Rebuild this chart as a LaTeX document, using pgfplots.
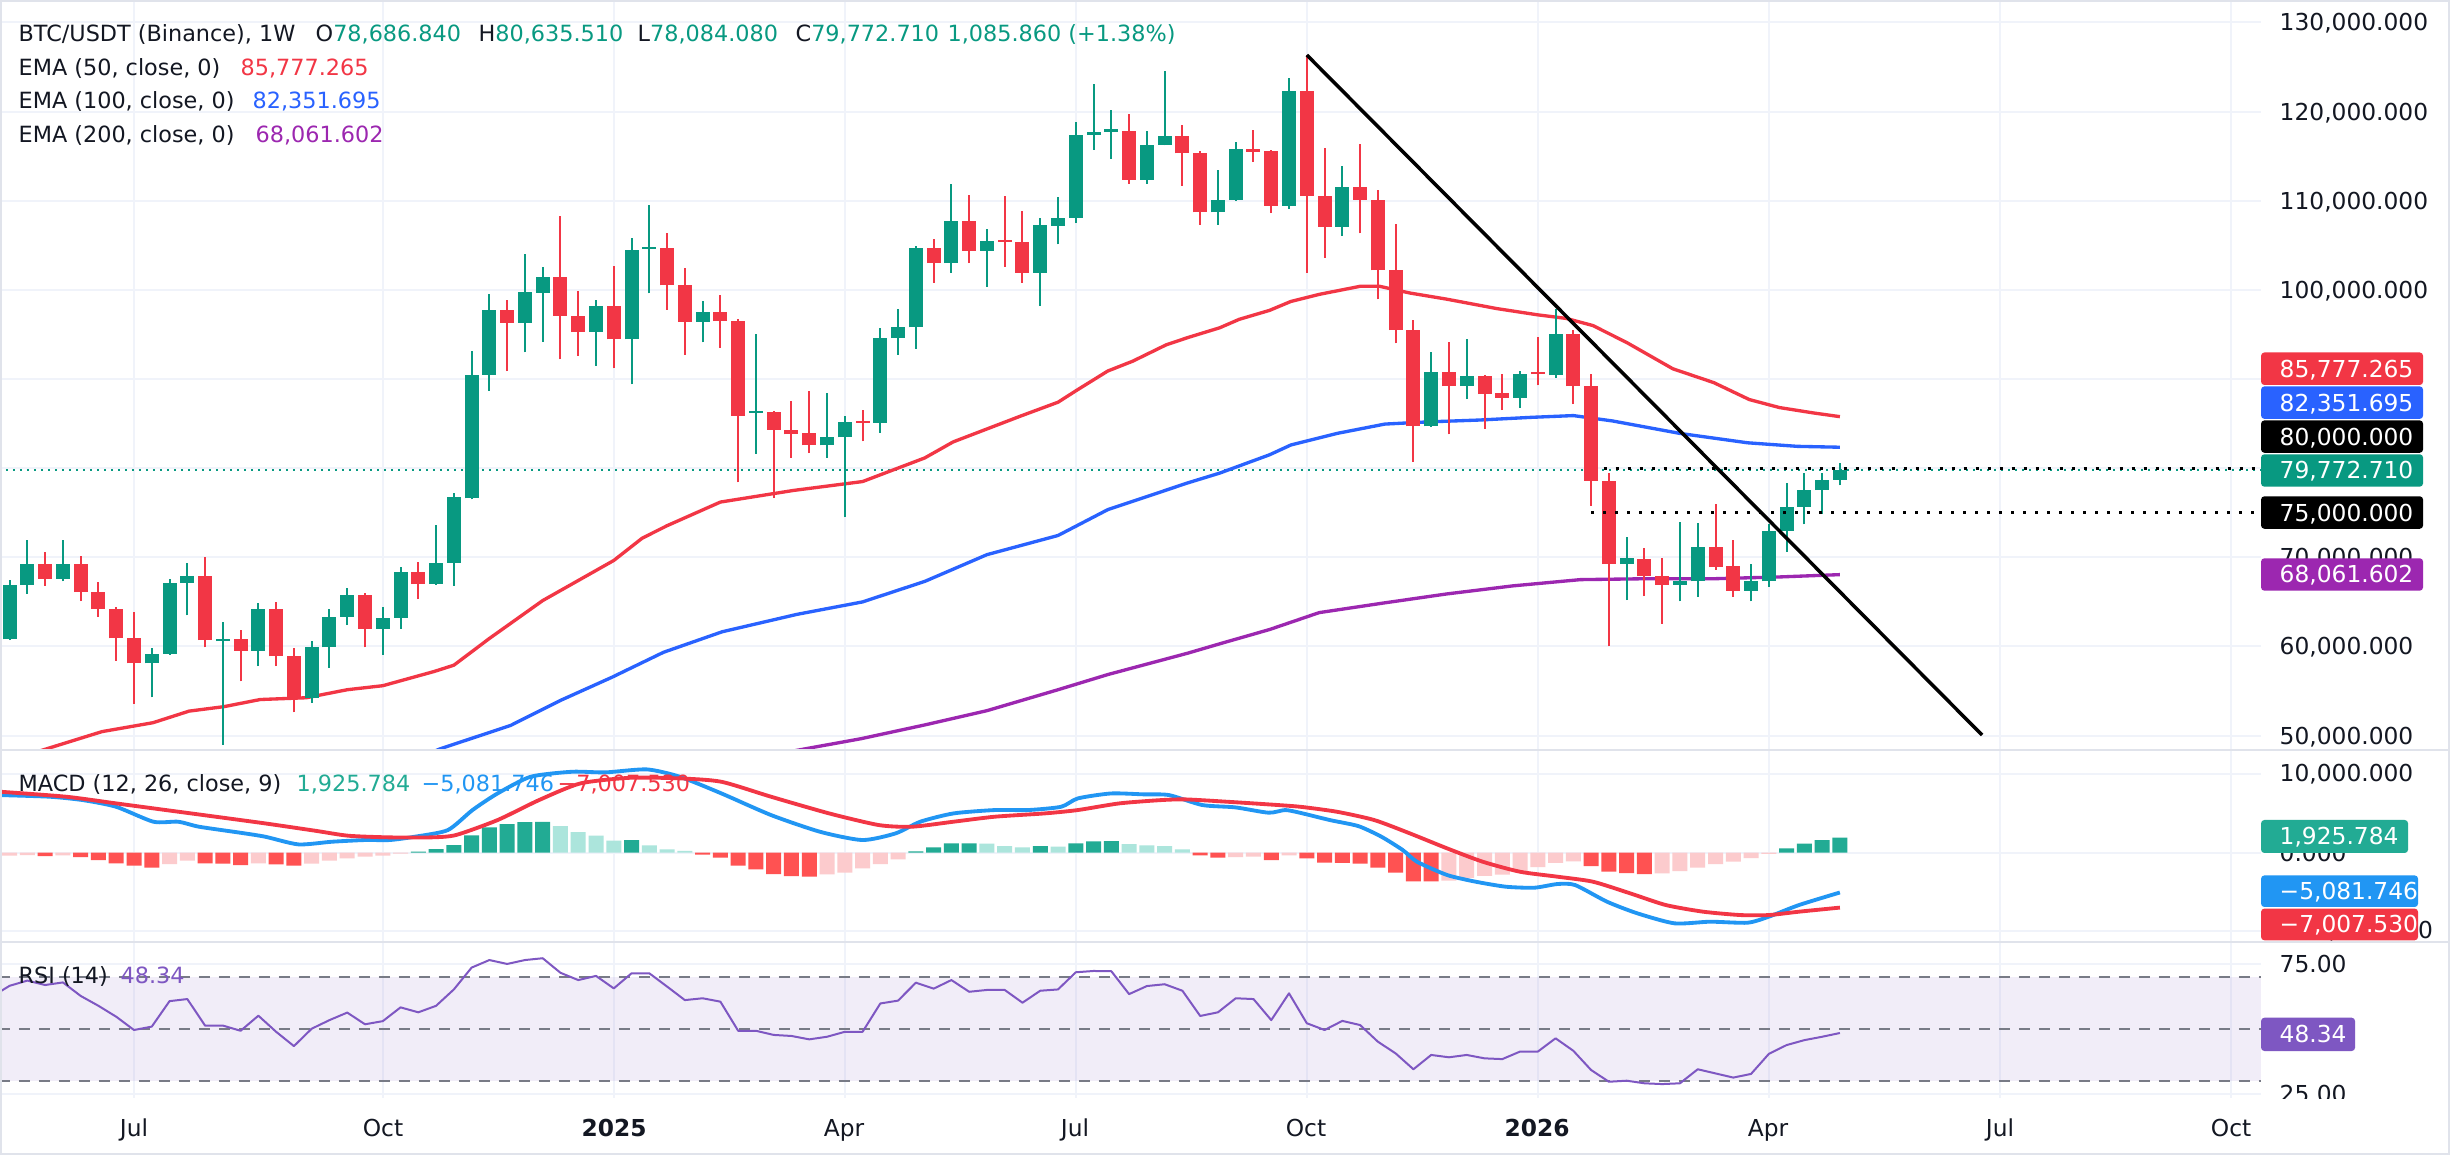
\documentclass[border=0pt]{standalone}
\usepackage{fontspec}
\setmainfont{DejaVu Sans}
\usepackage{pgfplots}
\pgfplotsset{compat=1.18}
\usepackage{pgfplotstable}

\definecolor{cgreen}{HTML}{089981}
\definecolor{cred}{HTML}{F23645}
\definecolor{cblue}{HTML}{2962FF}
\definecolor{cpurple}{HTML}{9C27B0}
\definecolor{mblue}{HTML}{2196F3}
\definecolor{hgreen}{HTML}{22AB94}
\definecolor{hlgreen}{HTML}{ACE5DC}
\definecolor{hred}{HTML}{FF5252}
\definecolor{hlred}{HTML}{FCCBCD}
\definecolor{rsipurple}{HTML}{7E57C2}
\definecolor{gridc}{HTML}{F0F3FA}
\definecolor{sepc}{HTML}{E0E3EB}
\definecolor{txt}{HTML}{131722}
\definecolor{rsidash}{HTML}{787B86}

\newcommand{\axf}{\fontsize{7}{8.4}\selectfont}
\newcommand{\hdf}{\fontsize{6.7}{8}\selectfont}

% weekly candles, prices in thousands USDT; i = week index (0 = first week of Jul 2024)
\pgfplotstableread{
i o h l c
-7 60.8 67.5 60.7 66.9
-6 66.9 71.9 65.9 69.25
-5 69.25 70.6 66.8 67.6
-4 67.6 71.9 67.3 69.25
-3 69.25 70.2 65.1 66.1
-2 66.1 67.2 63.35 64.2
-1 64.2 64.4 58.4 60.9
0 60.9 63.9 53.6 58.1
1 58.1 59.8 54.3 59.2
2 59.2 67.6 59.1 67.1
3 67.1 69.4 63.5 67.9
4 67.9 70.05 59.9 60.7
5 60.6 62.8 49.0 60.8
6 60.8 61.85 56.1 59.5
7 59.5 64.85 57.8 64.15
8 64.15 64.95 57.8 58.9
9 58.9 59.8 52.6 54.2
10 54.2 60.6 53.7 59.9
11 59.9 64.15 57.6 63.35
12 63.35 66.6 62.4 65.8
13 65.8 66.0 59.9 62.0
14 62.0 64.4 59.1 63.2
15 63.2 68.9 62.0 68.3
16 68.3 69.5 65.3 67.0
17 67.0 73.65 66.9 69.4
18 69.4 77.2 66.8 76.8
19 76.6 93.2 76.5 90.5
20 90.5 99.5 88.7 97.7
21 97.7 98.9 90.9 96.3
22 96.3 104.05 93.0 99.8
23 99.7 102.6 94.2 101.4
24 101.4 108.3 92.2 97.1
25 97.1 99.9 92.6 95.25
26 95.25 98.85 91.5 98.2
27 98.2 102.7 91.2 94.45
28 94.45 105.8 89.4 104.5
29 104.6 109.5 99.6 104.85
30 104.75 106.4 97.8 100.5
31 100.5 102.5 92.7 96.4
32 96.4 98.75 94.1 97.5
33 97.5 99.4 93.5 96.5
34 96.5 96.7 78.4 85.9
35 86.2 95.0 81.6 86.4
36 86.3 86.4 76.65 84.3
37 84.3 87.5 81.15 83.8
38 83.9 88.7 81.7 82.55
39 82.55 88.45 81.15 83.45
40 83.45 85.9 74.5 85.2
41 85.3 86.5 83.0 85.1
42 85.1 95.75 84.0 94.6
43 94.6 97.9 92.7 95.8
44 95.8 104.9 93.4 104.75
45 104.75 105.7 100.8 103.0
46 103.0 111.9 101.95 107.75
47 107.75 110.65 103.0 104.4
48 104.4 106.8 100.35 105.5
49 105.6 110.55 102.6 105.4
50 105.4 108.9 100.8 101.9
51 101.9 108.1 98.2 107.3
52 107.2 110.4 105.1 108.1
53 108.1 118.85 107.5 117.35
54 117.35 123.1 115.7 117.7
55 117.7 120.2 114.7 118.0
56 117.8 119.75 111.9 112.35
57 112.35 117.8 111.9 116.3
58 116.3 124.5 116.2 117.25
59 117.25 118.5 111.7 115.3
60 115.35 115.6 107.3 108.7
61 108.7 113.4 107.3 110.1
62 110.1 116.6 110.0 115.8
63 115.8 117.9 114.4 115.5
64 115.6 115.7 108.6 109.45
65 109.45 123.8 109.1 122.3
66 122.3 126.35 101.95 110.55
67 110.55 115.9 103.6 107.1
68 107.1 113.9 106.1 111.5
69 111.5 116.4 106.35 110.1
70 110.1 111.2 98.95 102.2
71 102.2 107.4 94.0 95.5
72 95.5 96.6 80.7 84.7
73 84.7 93.0 84.6 90.8
74 90.8 94.1 83.8 89.2
75 89.2 94.5 87.75 90.3
76 90.3 90.5 84.4 88.3
77 88.4 90.6 86.5 87.9
78 87.9 90.9 86.8 90.6
79 90.7 94.7 89.3 90.55
80 90.4 97.9 90.15 95.1
81 95.1 95.5 87.2 89.2
82 89.2 90.6 75.8 78.6
83 78.6 79.45 60.0 69.25
84 69.25 72.25 65.2 69.9
85 69.8 71.0 65.65 67.9
86 67.9 69.9 62.55 66.95
87 66.95 73.95 65.05 67.3
88 67.3 73.8 65.6 71.2
89 71.2 75.95 68.6 68.9
90 69.0 71.9 65.6 66.25
91 66.25 69.25 65.05 67.3
92 67.3 73.7 66.7 73.0
93 73.0 78.35 70.6 75.7
94 75.7 79.45 73.7 77.6
95 77.55 79.45 74.9 78.65
96 78.687 80.636 78.084 79.773
}\candles

\pgfplotstableread{
i v
-6 47.85
-4.95 48.5
-1.8 50.45
1.07 51.45
3.1 52.75
5.06 53.25
7.1 54.05
9.7 54.25
12.0 55.15
14.0 55.6
16.9 57.2
18.0 57.9
20.0 60.9
23.0 65.15
27.0 69.65
28.6 72.15
30.0 73.55
33.0 76.2
37.1 77.5
41.0 78.5
44.5 81.15
46.1 82.95
49.9 85.85
52.0 87.4
53.1 88.8
54.8 90.9
56.2 92.0
58.1 93.85
59.3 94.65
61.1 95.75
62.2 96.7
63.9 97.7
65.1 98.7
66.7 99.5
69.0 100.4
70.1 100.4
71.8 99.65
73.9 98.95
76.7 97.9
79.0 97.2
80.6 96.8
82.1 96.0
84.0 94.1
86.6 91.15
88.9 89.6
90.9 87.7
92.6 86.8
94.5 86.2
96 85.78
}\emaA

\pgfplotstableread{
i v
16.5 47.9
17.2 48.5
21.2 51.15
24.0 53.95
26.9 56.55
29.8 59.35
33.1 61.65
37.3 63.6
41.0 65.0
44.5 67.3
48.0 70.3
52.0 72.45
54.8 75.35
59.3 78.35
61.1 79.45
63.9 81.5
65.1 82.6
67.7 83.9
70.4 84.95
72.9 85.2
75.7 85.4
78.6 85.7
81.0 85.9
83.2 85.3
87.0 83.9
90.8 82.85
93.6 82.45
96 82.35
}\emaB

\pgfplotstableread{
i v
36 47.8
37.3 48.35
40.9 49.65
44.5 51.2
48.0 52.8
52.0 55.15
54.8 56.85
59.3 59.25
61.1 60.3
63.9 61.9
66.7 63.8
70.4 64.9
73.9 65.9
77.6 66.8
81.4 67.5
85.1 67.6
88.9 67.6
92.6 67.8
96 68.06
}\emaC

% MACD histogram (thousands); k: 0 rising>0, 1 falling>0, 2 falling<0, 3 rising<0
\pgfplotstableread{
i h k
-7 -0.38 3
-6 -0.30 3
-5 -0.43 2
-4 -0.34 3
-3 -0.55 2
-2 -0.94 2
-1 -1.36 2
0 -1.66 2
1 -1.91 2
2 -1.45 3
3 -1.02 3
4 -1.36 2
5 -1.40 2
6 -1.57 2
7 -1.36 3
8 -1.49 2
9 -1.66 2
10 -1.40 3
11 -1.02 3
12 -0.72 3
13 -0.51 3
14 -0.38 3
15 -0.13 3
16 0.13 0
17 0.47 0
18 0.98 0
19 2.21 0
20 3.23 0
21 3.66 0
22 3.91 0
23 3.95 0
24 3.40 1
25 2.64 1
26 2.17 1
27 1.53 1
28 1.62 0
29 0.94 1
30 0.43 1
31 0.25 1
32 -0.25 2
33 -0.62 2
34 -1.66 2
35 -2.13 2
36 -2.72 2
37 -2.98 2
38 -3.06 2
39 -2.77 3
40 -2.55 3
41 -2.00 3
42 -1.45 3
43 -0.85 3
44 0.17 0
45 0.68 0
46 1.19 0
47 1.20 0
48 1.15 1
49 0.85 1
50 0.68 1
51 0.85 0
52 0.77 1
53 1.19 0
54 1.45 0
55 1.49 0
56 1.11 1
57 0.94 1
58 0.85 1
59 0.43 1
60 -0.35 2
61 -0.62 2
62 -0.55 3
63 -0.50 3
64 -0.95 2
65 -0.35 3
66 -0.72 2
67 -1.28 2
68 -1.30 2
69 -1.40 2
70 -1.91 2
71 -2.53 2
72 -3.65 2
73 -3.66 2
74 -3.55 3
75 -3.20 3
76 -2.95 3
77 -2.80 3
78 -2.45 3
79 -1.85 3
80 -1.30 3
81 -1.10 3
82 -1.70 2
83 -2.40 2
84 -2.60 2
85 -2.72 2
86 -2.65 3
87 -2.35 3
88 -1.90 3
89 -1.45 3
90 -1.15 3
91 -0.68 3
92 -0.15 3
93 0.55 0
94 1.15 0
95 1.62 0
96 1.926 0
}\hist

\pgfplotstableread{
i v
-7.54 7.36
-4.74 7.15
-2.88 6.72
-1.01 5.87
1.09 3.96
2.49 3.96
3.66 3.32
5.99 2.55
7.39 2.04
9.26 1.06
11.12 1.40
12.99 1.62
14.39 1.62
15.79 2.04
17.66 2.89
19.05 5.45
20.46 7.57
22.32 9.70
24.66 10.34
26.52 10.26
28.86 10.64
30.72 9.70
33.06 7.57
35.85 4.81
38.6 2.68
40.99 1.62
42.86 2.47
44.25 3.96
46.12 5.02
48.45 5.45
50.32 5.45
52.18 5.87
53.12 6.94
54.99 7.57
56.85 7.45
58.25 7.36
60.12 6.09
61.98 5.79
63.85 5.11
64.78 5.45
65.62 5.10
67.3 4.17
68.9 3.40
70.2 2.04
71.4 0.34
72.2 -1.15
73.9 -2.85
75.5 -3.70
77.2 -4.34
78.8 -4.47
80.1 -4.00
81.1 -4.13
82.9 -6.26
84.6 -7.74
86.7 -9.02
88.7 -8.81
90.8 -8.94
92.0 -8.17
93.7 -6.68
96.0 -5.08
}\macdline

\pgfplotstableread{
i v
-7.54 7.79
-3.81 7.15
-1.01 6.30
1.79 5.45
4.59 4.60
7.39 3.74
10.19 2.81
12.06 2.17
14.39 1.96
16.72 1.96
18.12 2.26
20.46 4.17
22.79 6.72
25.12 8.85
27.92 9.57
30.72 9.49
33.06 9.06
35.85 7.15
39.12 5.02
41.92 3.53
43.79 3.32
46.12 3.96
48.45 4.60
51.25 5.02
53.12 5.45
55.45 6.30
57.79 6.72
59.19 6.81
61.52 6.51
63.85 6.17
65.62 5.87
67.7 5.23
69.8 4.17
71.8 2.47
73.9 0.55
75.9 -1.15
78.0 -2.43
80.1 -3.06
82.1 -3.70
84.2 -5.19
86.2 -6.68
88.3 -7.53
90.4 -7.96
92.0 -7.96
93.7 -7.53
96.0 -7.01
}\signal

\pgfplotstableread{
i v
-7.6 64.0
-7 66.5
-6 68.5
-5 66.8
-4 67.8
-3 62.6
-2 58.8
-1 54.6
0 49.5
1 50.8
2 60.6
3 61.4
4 51.2
5 51.2
6 49.2
7 55.0
8 48.8
9 43.3
10 50.0
11 53.3
12 56.2
13 51.7
14 52.9
15 58.2
16 56.3
17 58.8
18 65.1
19 73.5
20 76.4
21 74.9
22 76.4
23 77.1
24 71.5
25 68.7
26 70.3
27 65.5
28 71.3
29 71.3
30 66.2
31 61.0
32 61.7
33 60.4
34 49.2
35 49.2
36 47.6
37 47.2
38 45.9
39 46.9
40 48.8
41 48.8
42 59.7
43 60.8
44 67.7
45 65.4
46 68.7
47 64.2
48 64.9
49 64.9
50 60.0
51 64.6
52 65.1
53 71.7
54 72.2
55 72.1
56 63.3
57 66.4
58 67.1
59 64.6
60 54.9
61 56.3
62 61.7
63 61.4
64 53.3
65 63.6
66 52.1
67 49.5
68 53.0
69 51.4
70 45.0
71 40.5
72 34.4
73 39.9
74 39.0
75 39.9
76 38.6
77 38.3
78 41.2
79 41.2
80 46.3
81 41.5
82 34.1
83 29.6
84 30.0
85 29.0
86 28.7
87 29.0
88 34.4
89 32.8
90 31.2
91 32.6
92 40.3
93 43.7
94 45.6
95 46.9
96 48.34
}\rsi

\pgfplotsset{
  pane/.style={
    scale only axis, width=678.3pt,
    xmin=-7.541, xmax=119.70,
    enlargelimits=false,
    axis line style={draw=none},
    tick style={draw=none},
    major tick length=0pt,
    xtick={0,14,27,40,53,66,79,92,105,118},
    xticklabels={}, yticklabels={},
    grid=major,
    major grid style={draw=gridc, line width=0.6pt},
    anchor=south west,
  },
}

\begin{document}
\begin{tikzpicture}
\fill[white] (0,0) rectangle (735pt,346.8pt);
\useasboundingbox (0,0) rectangle (735pt,346.8pt);

% ---------------- price pane ----------------
\begin{axis}[pane, at={(0pt,121.8pt)}, height=225pt,
  ymin=48.39, ymax=132.52, ytick={50,60,...,130}]
% current price line
\addplot[cgreen, line width=0.5pt, dash pattern=on 0.6pt off 1.5pt] coordinates {(-7.6,79.773) (119.7,79.773)};
% EMAs
\addplot[cred, line width=1.0pt, line join=round] table[x=i,y=v] {\emaA};
\addplot[cblue, line width=1.0pt, line join=round] table[x=i,y=v] {\emaB};
\addplot[cpurple, line width=1.0pt, line join=round] table[x=i,y=v] {\emaC};
% wicks
\addplot[draw=none, mark=none, forget plot,
  restrict expr to domain={\thisrow{c}-\thisrow{o}}{0:1000},
  error bars/y dir=plus, error bars/y explicit, error bars/error mark=none,
  error bars/error bar style={draw=cgreen, line width=0.6pt}]
  table[x=i, y=l, y error plus expr={\thisrow{h}-\thisrow{l}}] {\candles};
\addplot[draw=none, mark=none, forget plot,
  restrict expr to domain={\thisrow{c}-\thisrow{o}}{-1000:-0.00001},
  error bars/y dir=plus, error bars/y explicit, error bars/error mark=none,
  error bars/error bar style={draw=cred, line width=0.6pt}]
  table[x=i, y=l, y error plus expr={\thisrow{h}-\thisrow{l}}] {\candles};
% bodies
\addplot[draw=none, mark=none, forget plot,
  restrict expr to domain={\thisrow{c}-\thisrow{o}}{0:1000},
  error bars/y dir=plus, error bars/y explicit, error bars/error mark=none,
  error bars/error bar style={draw=cgreen, line width=4.2pt}]
  table[x=i, y expr={min(\thisrow{o},\thisrow{c})}, y error plus expr={max(abs(\thisrow{c}-\thisrow{o}),0.2)}] {\candles};
\addplot[draw=none, mark=none, forget plot,
  restrict expr to domain={\thisrow{c}-\thisrow{o}}{-1000:-0.00001},
  error bars/y dir=plus, error bars/y explicit, error bars/error mark=none,
  error bars/error bar style={draw=cred, line width=4.2pt}]
  table[x=i, y expr={min(\thisrow{o},\thisrow{c})}, y error plus expr={max(abs(\thisrow{c}-\thisrow{o}),0.2)}] {\candles};
% drawings
\addplot[black, line width=1.05pt] coordinates {(66.0,126.35) (104.0,50.07)};
\addplot[black, line width=1.0pt, dash pattern=on 1.0pt off 2.6pt] coordinates {(82.7,80) (119.7,80)};
\addplot[black, line width=1.0pt, dash pattern=on 1.0pt off 2.6pt] coordinates {(82.0,75) (119.7,75)};
\end{axis}

% ---------------- MACD pane ----------------
\begin{axis}[pane, at={(0pt,64.2pt)}, height=57.6pt,
  ymin=-11.40, ymax=13.12, ytick={-10,0,10}]
\addplot[ybar, bar width=4.5pt, bar shift=0pt, fill=hgreen, draw=none,
  restrict expr to domain={\thisrow{k}}{0:0}] table[x=i,y=h] {\hist};
\addplot[ybar, bar width=4.5pt, bar shift=0pt, fill=hlgreen, draw=none,
  restrict expr to domain={\thisrow{k}}{1:1}] table[x=i,y=h] {\hist};
\addplot[ybar, bar width=4.5pt, bar shift=0pt, fill=hred, draw=none,
  restrict expr to domain={\thisrow{k}}{2:2}] table[x=i,y=h] {\hist};
\addplot[ybar, bar width=4.5pt, bar shift=0pt, fill=hlred, draw=none,
  restrict expr to domain={\thisrow{k}}{3:3}] table[x=i,y=h] {\hist};
\addplot[mblue, line width=1.15pt, smooth, tension=0.4] table[x=i,y=v] {\macdline};
\addplot[cred, line width=1.15pt, smooth, tension=0.4] table[x=i,y=v] {\signal};
\end{axis}

% ---------------- RSI pane ----------------
\begin{axis}[pane, at={(0pt,17.4pt)}, height=46.8pt,
  ymin=23.35, ymax=83.35, ytick={25,75}]
\addplot[draw=none, fill=rsipurple, fill opacity=0.1] coordinates {(-7.6,30) (119.7,30) (119.7,70) (-7.6,70)} -- cycle;
\addplot[rsidash, line width=0.6pt, dash pattern=on 3.3pt off 2.7pt] coordinates {(-7.6,70) (119.7,70)};
\addplot[rsidash, line width=0.6pt, dash pattern=on 3.3pt off 2.7pt] coordinates {(-7.6,50) (119.7,50)};
\addplot[rsidash, line width=0.6pt, dash pattern=on 3.3pt off 2.7pt] coordinates {(-7.6,30) (119.7,30)};
\addplot[rsipurple, line width=0.6pt, line join=round] table[x=i,y=v] {\rsi};
\end{axis}

% ---------------- annotations in pixel frame ----------------
\begin{scope}[x=0.3pt, y=-0.3pt, shift={(0pt,346.8pt)},
  lab/.style={anchor=west, inner sep=0pt, font=\axf, text height=5.1pt, text depth=0pt, text=txt},
  tag/.style={anchor=west, inner sep=0pt, font=\axf, text height=5.1pt, text depth=0pt, text=white},
  hd/.style={anchor=west, inner sep=0pt, font=\hdf, text height=4.9pt, text depth=0pt, text=txt},
  tl/.style={anchor=center, inner sep=0pt, font=\axf, text height=5.1pt, text depth=0pt, text=txt}]
  % separators and border
  \draw[sepc, line width=0.75pt] (0,750) -- (2450,750);
  \draw[sepc, line width=0.75pt] (0,942) -- (2450,942);
  \draw[sepc, line width=0.6pt] (1,1) rectangle (2449,1154);

  % header
  \node[hd] at (18,33) {BTC/USDT (Binance), 1W};
  \node[hd] at (315,33) {O\textcolor{cgreen}{78,686.840}};
  \node[hd] at (478,33) {H\textcolor{cgreen}{80,635.510}};
  \node[hd] at (637,33) {L\textcolor{cgreen}{78,084.080}};
  \node[hd] at (795,33) {C\textcolor{cgreen}{79,772.710}};
  \node[hd, text=cgreen] at (947,33) {1,085.860 (+1.38\%)};
  \node[hd] at (18,67) {EMA (50, close, 0)};
  \node[hd, text=cred] at (240,67) {85,777.265};
  \node[hd] at (18,100.5) {EMA (100, close, 0)};
  \node[hd, text=cblue] at (252,100.5) {82,351.695};
  \node[hd] at (18,134) {EMA (200, close, 0)};
  \node[hd, text=cpurple] at (255,134) {68,061.602};

  % price scale
  \node[lab] at (2279,22.5) {130,000.000};
  \node[lab] at (2279,111.6) {120,000.000};
  \node[lab] at (2279,200.8) {110,000.000};
  \node[lab] at (2279,289.9) {100,000.000};
  \node[lab] at (2279,557.3) {70,000.000};
  \node[lab] at (2279,646.5) {60,000.000};
  \node[lab] at (2279,735.6) {50,000.000};
  \fill[cred, rounded corners=1pt] (2261,352.5) rectangle (2423,385);
  \node[tag] at (2279,368.75) {85,777.265};
  \fill[cblue, rounded corners=1pt] (2261,386.4) rectangle (2423,418.9);
  \node[tag] at (2279,402.65) {82,351.695};
  \fill[black, rounded corners=1pt] (2261,420.4) rectangle (2423,452.8);
  \node[tag] at (2279,436.6) {80,000.000};
  \fill[cgreen, rounded corners=1pt] (2261,454.3) rectangle (2423,486.7);
  \node[tag] at (2279,470.5) {79,772.710};
  \fill[black, rounded corners=1pt] (2261,496.3) rectangle (2423,528.8);
  \node[tag] at (2279,512.55) {75,000.000};
  \fill[cpurple, rounded corners=1pt] (2261,558.3) rectangle (2423,590.7);
  \node[tag] at (2279,574.5) {68,061.602};

  % MACD scale
  \node[hd] at (18,783) {MACD (12, 26, close, 9)};
  \node[hd, text=hgreen] at (296,783) {1,925.784};
  \node[hd, text=mblue] at (421,783) {−5,081.746};
  \node[hd, text=cred] at (557,783) {−7,007.530};
  \node[lab] at (2279,773.3) {10,000.000};
  \node[lab] at (2279,852.7) {0.000};
  \node[lab] at (2279,930) {−10,000.000};
  \fill[hgreen, rounded corners=1pt] (2261,820) rectangle (2408,853);
  \node[tag] at (2279,836.5) {1,925.784};
  \fill[mblue, rounded corners=1pt] (2261,875.4) rectangle (2418,907);
  \node[tag] at (2279,891.2) {−5,081.746};
  \fill[cred, rounded corners=1pt] (2261,908.6) rectangle (2418,940.3);
  \node[tag] at (2279,924.45) {−7,007.530};

  % RSI scale
  \node[hd] at (18,975) {RSI (14)};
  \node[hd, text=rsipurple] at (120,975) {48.34};
  \node[lab] at (2279,963.6) {75.00};
  \begin{scope}
    \clip (2261,942) rectangle (2450,1098);
    \node[lab] at (2279,1093.6) {25.00};
  \end{scope}
  \fill[rsipurple, rounded corners=1pt] (2261,1017.7) rectangle (2355,1051);
  \node[tag] at (2279,1034.3) {48.34};

  % time scale
  \node[tl] at (134,1128) {Jul};
  \node[tl] at (383,1128) {Oct};
  \node[tl] at (614,1128) {\bfseries 2025};
  \node[tl] at (844,1128) {Apr};
  \node[tl] at (1075,1128) {Jul};
  \node[tl] at (1306,1128) {Oct};
  \node[tl] at (1537,1128) {\bfseries 2026};
  \node[tl] at (1768,1128) {Apr};
  \node[tl] at (2000,1128) {Jul};
  \node[tl] at (2231,1128) {Oct};
\end{scope}
\end{tikzpicture}
\end{document}
